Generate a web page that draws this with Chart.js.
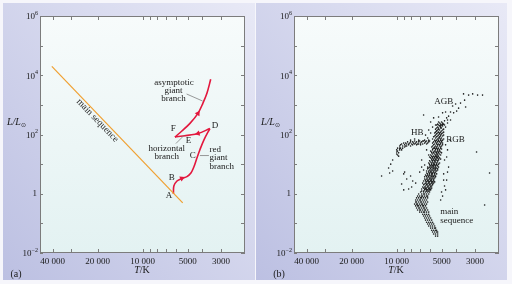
<!DOCTYPE html>
<html><head><meta charset="utf-8">
<script src="https://cdn.jsdelivr.net/npm/chart.js@4/dist/chart.umd.min.js"></script>
<style>
html,body{margin:0;padding:0;background:#f6f6fb;}
#wrap{position:relative;width:512px;height:284px;overflow:hidden;background:#f6f6fb;}
.bg{position:absolute;top:3px;height:277px;background:linear-gradient(to top right,#bcc0e2,#e8e9f6);}
canvas{position:absolute;top:0;}
</style></head><body>
<div id="wrap">
  <div class="bg" style="left:3px;width:252px"></div>
  <div class="bg" style="left:256px;width:251px"></div>
  <canvas id="ca" width="256" height="284" style="left:0"></canvas>
  <canvas id="cb" width="256" height="284" style="left:256px"></canvas>
</div>
<script>
// ---------- axis data ----------
const T_MIN = 2070, T_MAX = 48600;          // K (axis reversed)
const L_MIN = 0.01, L_MAX = 1e6;            // L/Lsun
const xTickVals = [40000, 30000, 20000, 10000, 9000, 8000, 7000, 6000, 5000, 4000, 3000];
const xLabelVals = [40000, 20000, 10000, 5000, 3000];
const yTickVals = [1e-2, 1e-1, 1, 10, 1e2, 1e3, 1e4, 1e5, 1e6];
const yLabelVals = [1e-2, 1, 1e2, 1e4, 1e6];

// ---------- panel (a): evolutionary track ----------
const msT = [40500, 5400];
const msL = [2.0e4, 0.49];
const rgbTrackT = [6230, 6190, 5900, 5470, 5060, 4760, 4550, 4340, 4150, 3900, 3555];
const rgbTrackL = [0.98, 1.82, 2.7, 3.3, 3.8, 5.0, 8.0, 16, 30, 65, 159];
const hbTrackT = [3555, 4270, 6090];
const hbTrackL = [159, 108, 82];
const agbTrackT = [6090, 5470, 4830, 4270, 3960, 3720, 3510];
const agbTrackL = [82, 131, 238, 519, 1130, 2460, 7290];

// ---------- panel (b): cluster stars, [log10 T/K, log10 L/Lsun] ----------
const agbStars = [[3.553,3.37],[3.519,3.33],[3.492,3.37],[3.459,3.33],[3.426,3.33],[3.546,3.16],[3.573,3.06],[3.606,3.03],[3.626,2.96],[3.539,2.93],[3.586,2.89],[3.599,2.79],[3.619,2.73],[3.640,2.76],[3.653,2.62],[3.666,2.56],[3.680,2.46],[3.660,2.39],[3.693,2.35],[3.706,2.29],[3.640,2.49],[3.720,2.22],[3.673,2.25],[3.733,2.12],[3.713,2.05],
 [3.820,2.66],[3.773,2.42],[3.753,2.56],[3.720,2.59],[3.693,2.73],[3.673,2.76],[3.660,2.49],[3.740,2.32],[3.760,2.25],[3.786,2.15],[3.773,2.05],[3.807,1.98],[3.793,1.88]];
const hbStars = [[4.000,1.41],[3.994,1.31],[4.000,1.48],[3.994,1.54],[3.987,1.38],[3.980,1.61],[3.974,1.65],[3.974,1.54],[3.967,1.68],[3.960,1.61],[3.953,1.71],[3.947,1.65],[3.940,1.71],[3.933,1.68],[3.927,1.75],[3.920,1.68],[3.913,1.71],[3.907,1.75],[3.900,1.68],[3.893,1.75],[3.887,1.71],[3.880,1.78],[3.873,1.71],[3.867,1.75],[3.860,1.68],[3.853,1.75],[3.846,1.78],[3.840,1.71],[3.833,1.75],[3.826,1.68],[3.820,1.78],[3.813,1.71],[3.807,1.75],[3.800,1.78],[3.793,1.71],[3.786,1.75],[3.780,1.78],[3.980,1.48],[3.960,1.54],[3.940,1.61],
 [3.947,1.58],[3.933,1.61],[3.920,1.65],[3.907,1.61],[3.893,1.65],[3.880,1.68],[3.867,1.65],[3.853,1.68],[3.840,1.65],[3.826,1.78],[3.813,1.81],[3.800,1.68],[3.786,1.81],[3.907,1.81],[3.880,1.85],[3.853,1.81],[3.980,1.54],[3.994,1.44],[3.987,1.27],[4.000,1.34],[3.967,1.48]];
const rgbRowL = [2.42,2.35,2.29,2.22,2.15,2.08,2.02,1.95,1.88,1.81,1.75,1.68,1.61,1.54,1.48,1.41,1.34,1.27,1.21,1.14,1.07,1.00,0.94,0.87,0.80,0.73,0.67,0.60,0.53,0.46,0.40,0.33,0.26,0.19,0.13,
 2.39,2.32,2.25,2.18,2.12,2.05,1.98,1.92,1.85,1.78,1.71,1.65,1.58,1.51,1.44,1.38,1.31,1.24,1.17,1.11,1.04,0.97,0.90,0.84,0.77,0.70,0.63,0.57,0.50,0.43,0.36,0.30,0.23,0.16,0.09];
const rgbRowT = [
 [3.720,3.700],[3.726,3.706,3.686],[3.713,3.693],[3.733,3.706,3.700],[3.726,3.713,3.693],
 [3.740,3.720,3.706,3.686],[3.733,3.713,3.700],[3.746,3.726,3.706,3.693],[3.740,3.720,3.713,3.700],
 [3.746,3.733,3.720,3.706,3.693],[3.753,3.740,3.726,3.713,3.700],[3.746,3.733,3.720,3.706],
 [3.760,3.740,3.726,3.713,3.700],[3.753,3.746,3.733,3.720,3.706],[3.760,3.740,3.726,3.713],
 [3.766,3.753,3.740,3.733,3.720,3.706],[3.760,3.746,3.733,3.726,3.713],[3.766,3.753,3.740,3.733,3.720],
 [3.773,3.760,3.746,3.733,3.726,3.713],[3.766,3.753,3.740,3.733,3.720],[3.773,3.760,3.746,3.740,3.726],
 [3.780,3.766,3.753,3.746,3.733,3.720],[3.773,3.760,3.753,3.740,3.726],[3.786,3.773,3.760,3.746,3.733],
 [3.780,3.766,3.760,3.746,3.740,3.726],[3.786,3.773,3.766,3.753,3.740],[3.793,3.780,3.766,3.760,3.746,3.733],
 [3.800,3.786,3.773,3.760,3.753,3.740],[3.793,3.780,3.773,3.760,3.746],[3.807,3.793,3.786,3.773,3.766,3.753],
 [3.800,3.786,3.780,3.766,3.760,3.746],[3.813,3.800,3.793,3.780,3.773,3.760],[3.807,3.793,3.786,3.773,3.766],
 [3.820,3.807,3.800,3.786,3.780,3.766],[3.813,3.800,3.793,3.780,3.773],
 [3.713,3.693],[3.733,3.720,3.700,3.680],[3.726,3.706],[3.740,3.720,3.686],[3.733,3.700],
 [3.746,3.726,3.693],[3.740,3.720,3.706,3.686],[3.753,3.733,3.713],[3.760,3.726,3.706,3.686],
 [3.740,3.720,3.700],[3.760,3.733,3.706,3.693],[3.753,3.726,3.713,3.693],[3.766,3.746,3.733,3.706],
 [3.760,3.740,3.726,3.700],[3.773,3.746,3.726,3.713],[3.766,3.753,3.733,3.720,3.700],[3.773,3.740,3.726,3.706],
 [3.780,3.760,3.746,3.726],[3.766,3.753,3.740,3.720,3.706],[3.780,3.760,3.746,3.726],[3.786,3.766,3.753,3.733,3.713],
 [3.780,3.766,3.746,3.733],[3.793,3.780,3.766,3.753,3.740,3.720],[3.793,3.773,3.753,3.740,3.726],
 [3.800,3.786,3.773,3.753,3.733],[3.800,3.780,3.760,3.746],[3.807,3.793,3.780,3.766,3.746],
 [3.813,3.800,3.786,3.766,3.753,3.740],[3.813,3.800,3.780,3.766,3.753],[3.820,3.807,3.793,3.773,3.753],
 [3.826,3.807,3.786,3.766,3.753],[3.820,3.800,3.780,3.760],[3.826,3.813,3.793,3.773],
 [3.833,3.813,3.807,3.786,3.773],[3.833,3.820,3.800,3.786]];
const toRowL = [0.06,-0.01,-0.08,-0.14,-0.21,-0.28,-0.35,-0.41,-0.48,-0.55,-0.62,-0.69,-0.75,-0.82,-0.89,-0.96,-1.02,-1.09,-1.16,-1.23,-1.29,-1.36,-1.43];
const toRowT = [
 [3.840,3.820,3.807,3.793,3.780],[3.853,3.833,3.820,3.813,3.800,3.786],[3.860,3.846,3.833,3.826,3.813,3.800,3.793],
 [3.867,3.853,3.840,3.833,3.820,3.807,3.793],[3.873,3.860,3.846,3.840,3.826,3.813,3.800],
 [3.873,3.867,3.853,3.840,3.833,3.820,3.807,3.793],[3.880,3.867,3.860,3.846,3.833,3.826,3.813,3.800],
 [3.873,3.860,3.853,3.840,3.826,3.820,3.807],[3.867,3.853,3.846,3.833,3.820,3.813,3.800],
 [3.860,3.846,3.840,3.826,3.813,3.807,3.793],[3.846,3.833,3.820,3.813,3.800,3.786],
 [3.826,3.813,3.800,3.786],[3.820,3.807,3.793,3.780],[3.813,3.800,3.786,3.773],[3.807,3.793,3.780,3.766],
 [3.800,3.786,3.773,3.760],[3.793,3.780,3.766,3.753],[3.786,3.773,3.760,3.746],[3.773,3.760,3.746,3.740],
 [3.766,3.753,3.740,3.733],[3.760,3.746,3.733,3.726],[3.753,3.740,3.726],[3.740,3.726]];
const fieldStars = [[4.101,0.60],[4.047,0.70],[4.054,0.87],[4.027,1.14],[3.953,0.67],[3.947,0.73],[3.933,0.50],[3.967,0.33],[3.953,0.13],[3.920,0.16],[3.900,0.23],[3.873,0.36],[3.833,0.90],[3.820,0.80],[4.040,1.00],[4.027,0.77],[3.907,0.60],[3.893,0.43],
 [3.466,1.41],[3.379,0.70],[3.412,-0.38],[3.666,1.24],[3.653,0.90],[3.686,0.67],[3.666,0.46],[3.680,0.26],[3.700,0.06],[3.660,1.48],[3.640,1.81],[3.673,1.65],[3.693,-0.08],[3.706,-0.21],
 [3.680,1.14],[3.660,0.73],[3.686,0.46],[3.673,0.13],[3.833,1.14],[3.813,0.97],[3.846,0.73],[3.800,1.48],[3.786,1.31]];

// ---------- build ----------
const SERIF = '"Liberation Serif","Times New Roman",serif';
const pts = (T, L) => T.map((t, i) => ({x: t, y: L[i]}));
const logPts = arr => arr.map(p => ({x: Math.pow(10, p[0]), y: Math.pow(10, p[1])}));
const rowPts = (rowL, rowT) => rowL.flatMap((l, i) => rowT[i].map(t => ({x: Math.pow(10, t), y: Math.pow(10, l)})));
const fmtT = v => v >= 10000 ? String(v).replace(/(\d+)(\d{3})$/, '$1 $2') : String(v);

function framePlugin(cfg) {
  return {
    id: 'frame',
    beforeDatasetsDraw(chart) {
      const {ctx, chartArea: a} = chart;
      const g = ctx.createLinearGradient(0, a.top, 0, a.bottom);
      g.addColorStop(0, '#f7fbfb'); g.addColorStop(1, '#e3f2f2');
      ctx.save(); ctx.fillStyle = g; ctx.fillRect(a.left, a.top, a.right - a.left, a.bottom - a.top); ctx.restore();
    },
    afterDraw(chart) {
      const {ctx, chartArea: a, scales: {x, y}} = chart;
      ctx.save();
      ctx.strokeStyle = '#7c7c7c'; ctx.lineWidth = 1;
      ctx.strokeRect(a.left + 0.5, a.top + 0.5, a.right - a.left - 1, a.bottom - a.top - 1);
      ctx.beginPath();
      xTickVals.forEach(v => { const px = Math.round(x.getPixelForValue(v)) + 0.5;
        ctx.moveTo(px, a.bottom); ctx.lineTo(px, a.bottom - 4); ctx.moveTo(px, a.top); ctx.lineTo(px, a.top + 4); });
      yTickVals.forEach(v => { const py = Math.round(y.getPixelForValue(v)) + 0.5;
        ctx.moveTo(a.left, py); ctx.lineTo(a.left + 3, py); ctx.moveTo(a.right, py); ctx.lineTo(a.right - 4, py); });
      ctx.stroke();
      // y labels
      ctx.fillStyle = '#1a1a1a'; ctx.textBaseline = 'middle';
      yLabelVals.forEach(v => {
        const py = y.getPixelForValue(v);
        const e = Math.round(Math.log10(v));
        const right = a.left - 2;
        if (e === 0) { ctx.font = '9px ' + SERIF; ctx.textAlign = 'right'; ctx.fillText('1', right - 1, py); return; }
        const es = e < 0 ? '\u2212' + (-e) : String(e);
        ctx.font = '6px ' + SERIF; const ew = ctx.measureText(es).width;
        ctx.textAlign = 'left'; ctx.fillText(es, right - ew, py - 3);
        ctx.font = '9px ' + SERIF; ctx.textAlign = 'right'; ctx.fillText('10', right - ew, py + 1);
      });
      // y title L/L⊙
      ctx.textAlign = 'left';
      ctx.font = 'italic 10px ' + SERIF; ctx.fillText('L/L', cfg.yTitleX, 122);
      const w = ctx.measureText('L/L').width;
      ctx.font = '6px "DejaVu Sans",sans-serif'; ctx.fillText('\u2299', cfg.yTitleX + w, 125);
      // x title T/K
      ctx.font = 'italic 10px ' + SERIF; const wT = ctx.measureText('T').width;
      ctx.font = '10px ' + SERIF; const wK = ctx.measureText('/K').width;
      const cx = (a.left + a.right) / 2 - 0.5, x0 = cx - (wT + wK) / 2;
      ctx.font = 'italic 10px ' + SERIF; ctx.fillText('T', x0, 270);
      ctx.font = '10px ' + SERIF; ctx.fillText('/K', x0 + wT, 270);
      // panel tag
      ctx.textAlign = 'center'; ctx.font = '10px ' + SERIF; ctx.fillText(cfg.tag, cfg.tagX, 274);
      if (cfg.extra) cfg.extra(chart, ctx);
      ctx.restore();
    }
  };
}

function options(plotLeft, plotRight) {
  return {
    responsive: false, animation: false, events: [],
    layout: {padding: {left: 0, right: 256 - plotRight, top: 16, bottom: 0}},
    plugins: {legend: {display: false}, tooltip: {enabled: false}},
    scales: {
      x: {type: 'logarithmic', reverse: true, min: T_MIN, max: T_MAX,
          afterBuildTicks: s => { s.ticks = xTickVals.map(v => ({value: v})); },
          afterFit: s => { s.height = 31; },
          grid: {display: false, drawTicks: false}, border: {display: false},
          ticks: {autoSkip: false, maxRotation: 0, padding: 3, color: '#1a1a1a',
                  font: {family: SERIF, size: 9},
                  callback: v => xLabelVals.includes(v) ? fmtT(v) : ''}},
      y: {type: 'logarithmic', min: L_MIN, max: L_MAX,
          afterFit: s => { s.width = plotLeft; },
          grid: {display: false}, border: {display: false}, ticks: {display: false}}
    }
  };
}

const RED = '#e3173d', ORANGE = '#f0a030';
function track(T, L, arrowIdx, rot) {
  return {data: pts(T, L), showLine: true, tension: 0.35, borderColor: RED, borderWidth: 1.6,
    pointStyle: 'triangle', pointBackgroundColor: RED, pointBorderWidth: 0,
    pointRadius: T.map((_, i) => i === arrowIdx ? 3.2 : 0),
    pointRotation: T.map((_, i) => i === arrowIdx ? rot : 0)};
}

function annotateA(chart, ctx) {
  const {x, y} = chart.scales;
  const P = (t, l) => [x.getPixelForValue(t), y.getPixelForValue(l)];
  ctx.strokeStyle = '#808080'; ctx.lineWidth = 0.8;
  [[[5086, 2330], [3977, 1349]], [[5997, 49.6], [5302, 92.4]], [[4146, 19.5], [3608, 19.5]]].forEach(seg => {
    const p = P(...seg[0]), q = P(...seg[1]);
    ctx.beginPath(); ctx.moveTo(p[0], p[1]); ctx.lineTo(q[0], q[1]); ctx.stroke();
  });
  ctx.fillStyle = '#1a1a1a'; ctx.textBaseline = 'middle'; ctx.font = '9px ' + SERIF;
  ctx.textAlign = 'center';
  [['asymptotic', 174, 82.5], ['giant', 173.5, 90.5], ['branch', 173.5, 99],
   ['F', 173.3, 128.5], ['D', 215, 125.5], ['E', 188.5, 141], ['horizontal', 166.7, 148.7], ['branch', 166.7, 157],
   ['C', 192.7, 155.3], ['B', 171.7, 178], ['A', 169, 195.5]].forEach(t => ctx.fillText(t[0], t[1], t[2]));
  ctx.textAlign = 'left';
  [['red', 209.5, 149.3], ['giant', 209.5, 158], ['branch', 209.5, 166.5]].forEach(t => ctx.fillText(t[0], t[1], t[2]));
  ctx.save(); ctx.translate(97.5, 120.5); ctx.rotate(46 * Math.PI / 180);
  ctx.textAlign = 'center'; ctx.font = '9.5px ' + SERIF; ctx.fillText('main sequence', 0, 0); ctx.restore();
}
function annotateB(chart, ctx) {
  ctx.fillStyle = '#1a1a1a'; ctx.textBaseline = 'middle'; ctx.font = '9px ' + SERIF;
  ctx.textAlign = 'center';
  ctx.fillText('AGB', 443.8 - 256, 102); ctx.fillText('HB', 417.3 - 256, 133); ctx.fillText('RGB', 455.5 - 256, 140);
  ctx.textAlign = 'left';
  ctx.fillText('main', 440.3 - 256, 212); ctx.fillText('sequence', 440.3 - 256, 220.3);
}

new Chart(document.getElementById('ca'), {
  type: 'scatter',
  data: {datasets: [
    {data: pts(msT, msL), showLine: true, borderColor: ORANGE, borderWidth: 1.2, pointRadius: 0},
    track(rgbTrackT, rgbTrackL, 3, 66),
    track(hbTrackT, hbTrackL, 1, 256),
    track(agbTrackT, agbTrackL, 3, 33)
  ]},
  options: options(40, 245),
  plugins: [framePlugin({tag: '(a)', tagX: 16, yTitleX: 7, extra: annotateA})]
});

const clusterPts = [].concat(logPts(agbStars), logPts(hbStars), rowPts(rgbRowL, rgbRowT), rowPts(toRowL, toRowT), logPts(fieldStars));
new Chart(document.getElementById('cb'), {
  type: 'scatter',
  data: {datasets: [{data: clusterPts, pointRadius: 0.8, pointBackgroundColor: '#151515', pointBorderWidth: 0}]},
  options: options(38, 243),
  plugins: [framePlugin({tag: '(b)', tagX: 23, yTitleX: 5, extra: annotateB})]
});
</script>
</body></html>
